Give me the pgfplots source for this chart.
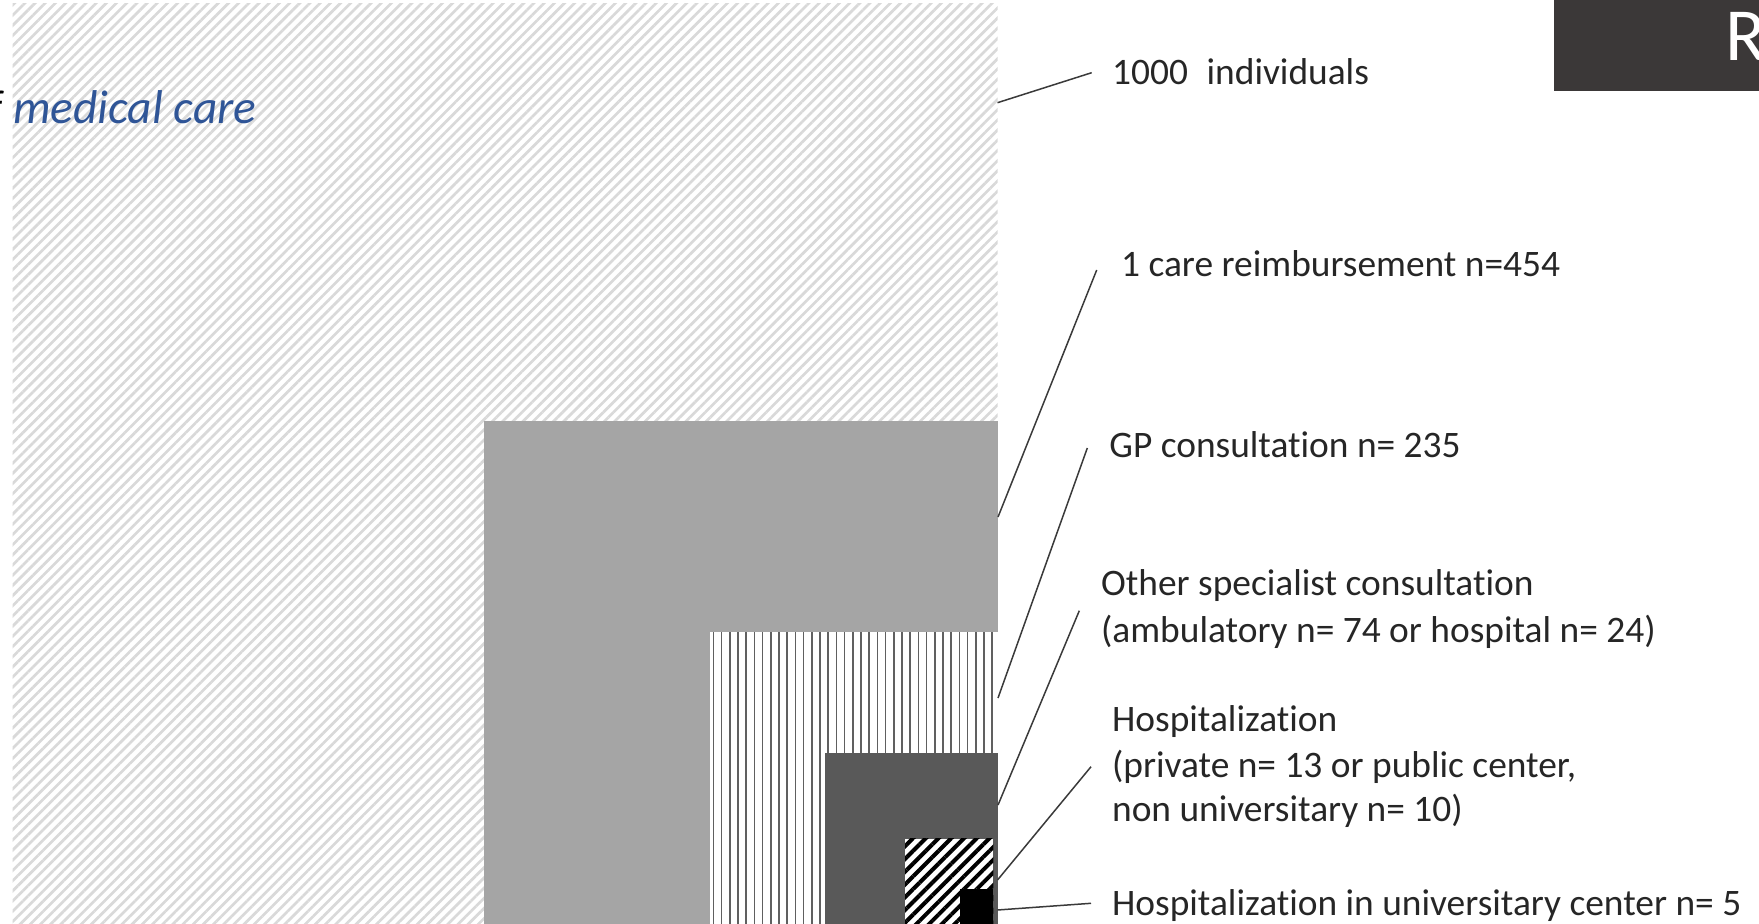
\documentclass[border=0pt]{standalone}
\usepackage{pgfplots}
\pgfplotsset{compat=1.18}
\usepackage{fontspec}
\setmainfont{Carlito}[Ligatures=NoCommon]
\usetikzlibrary{patterns.meta}
\definecolor{hatchgray}{HTML}{D9D9D9}
\definecolor{midgray}{HTML}{A5A5A5}
\definecolor{darkgraysq}{HTML}{595959}
\definecolor{stripegray}{HTML}{606060}
\definecolor{boxgray}{HTML}{3B3838}
\definecolor{titleblue}{HTML}{2F5597}
\definecolor{labelcol}{HTML}{262626}
\definecolor{leadcol}{HTML}{3A3A3A}
\tikzset{
  lab/.style={anchor=base west, inner sep=0pt, text=labelcol, font=\fontsize{18.7}{22}\selectfont},
  lead/.style={draw=leadcol, line width=0.75pt, mark=none},
}

\begin{document}
\begin{tikzpicture}
\begin{axis}[
  width=879.5pt, height=462pt, scale only axis,
  xmin=0, xmax=1759, ymin=0, ymax=924, y dir=reverse,
  hide axis, clip=true,
]
% 1000 individuals (light hatched)
\addplot[draw=none, mark=none, pattern={Lines[angle=45,distance=3.6pt,line width=1.35pt]}, pattern color=hatchgray]
  coordinates {(12.7,4) (997.5,4) (997.5,935) (12.7,935)} -- cycle;
% 454 (solid mid gray)
\addplot[draw=none, mark=none, fill=midgray]
  coordinates {(483.5,421) (997.5,421) (997.5,935) (483.5,935)} -- cycle;
% 235 (vertical stripes)
\addplot[draw=none, mark=none, fill=white]
  coordinates {(710,632) (997.5,632) (997.5,935) (710,935)} -- cycle;
\addplot[draw=none, mark=none, pattern={Lines[angle=90,distance=4.1pt,line width=0.8pt]}, pattern color=stripegray]
  coordinates {(710,632) (997.5,632) (997.5,935) (710,935)} -- cycle;
% 98 (dark gray)
\addplot[draw=none, mark=none, fill=darkgraysq]
  coordinates {(824.5,753) (997.5,753) (997.5,935) (824.5,935)} -- cycle;
% 23 (black diagonal hatch)
\addplot[draw=none, mark=none, fill=white]
  coordinates {(905,838.5) (993.3,838.5) (993.3,935) (905,935)} -- cycle;
\addplot[draw=none, mark=none, pattern={Lines[angle=45,distance=4.5pt,line width=2pt]}, pattern color=black]
  coordinates {(905,838.5) (993.3,838.5) (993.3,935) (905,935)} -- cycle;
% 5 (black)
\addplot[draw=none, mark=none, fill=black]
  coordinates {(960,888.5) (993.3,888.5) (993.3,935) (960,935)} -- cycle;
% top right box
\addplot[draw=none, mark=none, fill=boxgray]
  coordinates {(1554,-5) (1765,-5) (1765,90.7) (1554,90.7)} -- cycle;

% leader lines
\addplot[lead] coordinates {(997.5,102.7) (1091.7,72.7)};
\addplot[lead] coordinates {(998,517) (1096.7,270)};
\addplot[lead] coordinates {(998,698) (1087.3,448)};
\addplot[lead] coordinates {(998,805) (1079.3,610.7)};
\addplot[lead] coordinates {(997.5,880) (1091,766.7)};
\addplot[lead] coordinates {(997.5,910) (1091,903.3)};

% labels
\node[lab] at (axis cs:1111.7,85) {1000\hspace{0.5em}individuals};
\node[lab] at (axis cs:1120.7,277) {1 care reimbursement n=454};
\node[lab] at (axis cs:1109,458) {GP consultation n= 235};
\node[lab] at (axis cs:1100.7,595) {Other specialist consultation};
\node[lab] at (axis cs:1100.7,642) {(ambulatory n= 74 or hospital n= 24)};
\node[lab] at (axis cs:1111.7,731) {Hospitalization};
\node[lab] at (axis cs:1111.7,777) {(private n= 13 or public center,};
\node[lab] at (axis cs:1111.7,821) {non universitary n= 10)};
\node[lab] at (axis cs:1111.7,915) {Hospitalization in universitary center n= 5};

% title fragments
\node[anchor=base west, inner sep=0pt, text=titleblue, font=\fontsize{23.7}{28}\selectfont\itshape] at (axis cs:12.7,123.3) {medical care};
\node[anchor=base east, inner sep=0pt, text=black, font=\fontsize{23.7}{28}\selectfont\itshape] at (axis cs:12.7,123.3) {of\hspace*{0.22em}};
\node[anchor=base west, inner sep=0pt, text=white, font=\fontsize{37.5}{44}\selectfont] at (axis cs:1725,61) {R};
\end{axis}
\pgfresetboundingbox
\useasboundingbox (current axis.south west) rectangle (current axis.north east);
\end{tikzpicture}
\end{document}
